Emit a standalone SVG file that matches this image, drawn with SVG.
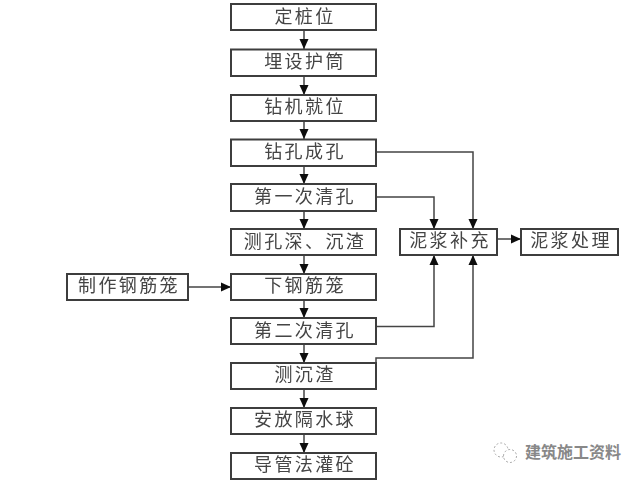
<svg xmlns="http://www.w3.org/2000/svg" width="640" height="481" viewBox="0 0 640 481">
<style>
.b{fill:#fff;stroke:#3c3c3c;stroke-width:2}
.t{font-family:"Noto Sans CJK SC","Liberation Serif",sans-serif;font-size:18px;fill:#444;text-anchor:middle;letter-spacing:2.400px}
.c{fill:none;stroke:#444;stroke-width:1.5}
.w{font-family:"Noto Sans CJK SC","Liberation Sans",sans-serif;font-size:16px;font-weight:700;fill:#888;text-anchor:middle}
.i{fill:#fff;stroke:#aaa;stroke-width:1;stroke-dasharray:2 2}
</style>
<defs>
<marker id="a" markerUnits="userSpaceOnUse" markerWidth="11" markerHeight="10" refX="10" refY="5" orient="auto"><path d="M0 0.500L10 5L0 9.500Z" fill="#111"/></marker>
<filter id="s" x="-5%" y="-5%" width="110%" height="110%"><feGaussianBlur stdDeviation="0.35"/></filter>
</defs>
<rect width="640" height="481" fill="#fff"/>
<g filter="url(#s)">
<g id="connectors">
<path class="c" marker-end="url(#a)" d="M304 30V49"/>
<path class="c" marker-end="url(#a)" d="M304 76V95"/>
<path class="c" marker-end="url(#a)" d="M304 121V139"/>
<path class="c" marker-end="url(#a)" d="M304 166V184"/>
<path class="c" marker-end="url(#a)" d="M304 211V229"/>
<path class="c" marker-end="url(#a)" d="M304 255V274"/>
<path class="c" marker-end="url(#a)" d="M304 300V318"/>
<path class="c" marker-end="url(#a)" d="M304 344V363"/>
<path class="c" marker-end="url(#a)" d="M304 389V408"/>
<path class="c" marker-end="url(#a)" d="M304 434V453"/>
<path class="c" marker-end="url(#a)" d="M188 287H231"/>
<path class="c" marker-end="url(#a)" d="M376 152H473V229"/>
<path class="c" marker-end="url(#a)" d="M376 197H434V229"/>
<path class="c" marker-end="url(#a)" d="M376 326.500H434V255"/>
<path class="c" marker-end="url(#a)" d="M376 363V358H473V255"/>
<path class="c" marker-end="url(#a)" d="M497 239H521"/>
</g>
<g id="n1"><rect class="b" x="231" y="4" width="145" height="26"/><text class="t" x="305" y="23">定桩位</text></g>
<g id="n2"><rect class="b" x="231" y="49.500" width="145" height="26.500"/><text class="t" x="305" y="68">埋设护筒</text></g>
<g id="n3"><rect class="b" x="231" y="95" width="145" height="26"/><text class="t" x="305" y="113">钻机就位</text></g>
<g id="n4"><rect class="b" x="231" y="139.500" width="145" height="26.500"/><text class="t" x="305" y="158">钻孔成孔</text></g>
<g id="n5"><rect class="b" x="231" y="184" width="145" height="27"/><text class="t" x="305" y="203">第一次清孔</text></g>
<g id="n6"><rect class="b" x="231" y="229" width="145" height="26"/><text class="t" x="305" y="248">测孔深、沉渣</text></g>
<g id="n7"><rect class="b" x="231" y="274" width="145" height="26"/><text class="t" x="305" y="292">下钢筋笼</text></g>
<g id="n8"><rect class="b" x="231" y="318" width="145" height="26"/><text class="t" x="305" y="337">第二次清孔</text></g>
<g id="n9"><rect class="b" x="231" y="363" width="145" height="26"/><text class="t" x="305" y="381">测沉渣</text></g>
<g id="n10"><rect class="b" x="231" y="408" width="145" height="26"/><text class="t" x="305" y="426">安放隔水球</text></g>
<g id="n11"><rect class="b" x="231" y="453" width="145" height="26"/><text class="t" x="305" y="471">导管法灌砼</text></g>
<g id="n12"><rect class="b" x="67" y="274" width="121" height="26"/><text class="t" x="129" y="292">制作钢筋笼</text></g>
<g id="n13"><rect class="b" x="400" y="229" width="97" height="26"/><text class="t" x="450" y="247">泥浆补充</text></g>
<g id="n14"><rect class="b" x="521" y="229" width="97" height="26"/><text class="t" x="571" y="247">泥浆处理</text></g>
</g>
<g id="watermark">
<circle class="i" cx="501" cy="450" r="7"/>
<circle class="i" cx="510" cy="456" r="6.500"/>
<text class="w" x="573" y="458">建筑施工资料</text>
</g>
</svg>
